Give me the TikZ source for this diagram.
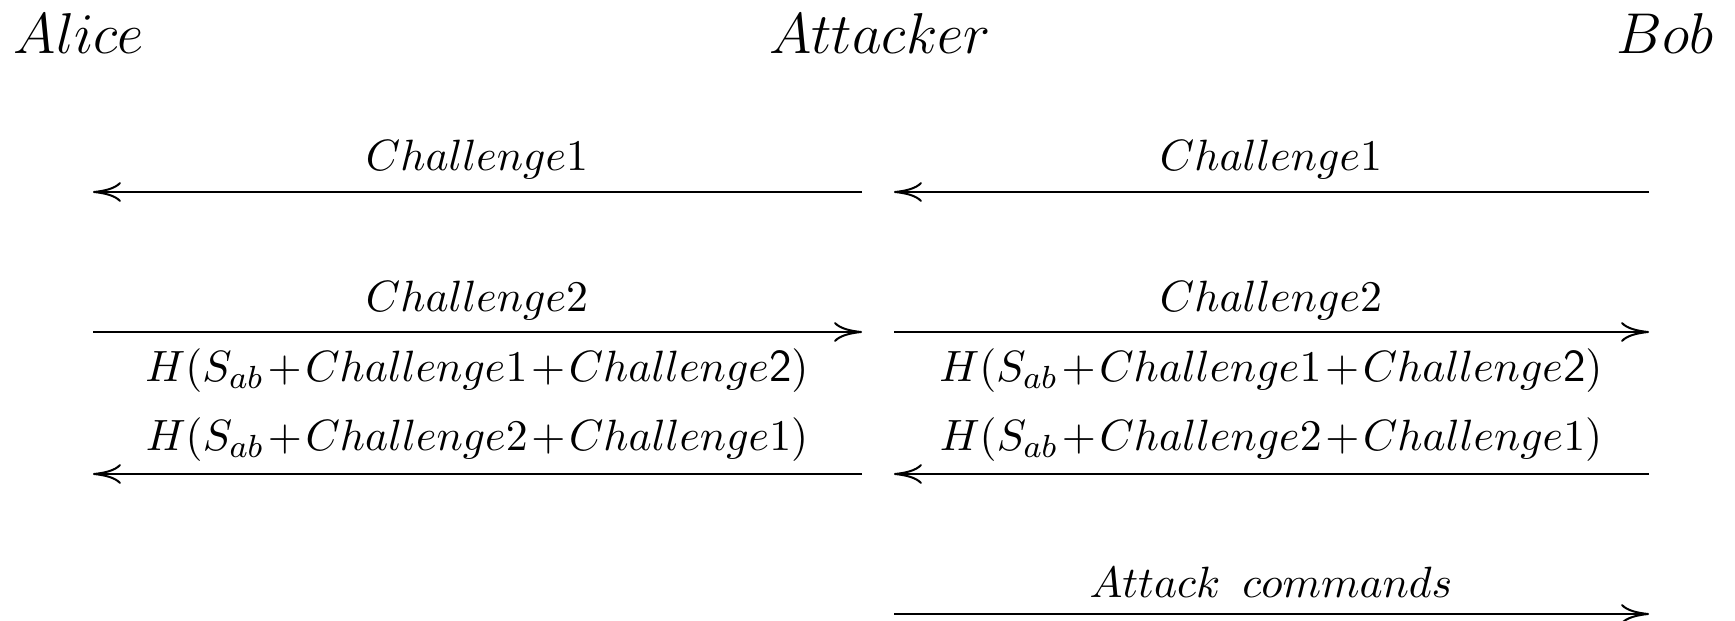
\documentclass[tikz,border=0pt]{standalone}
\usetikzlibrary{arrows.meta}
\newcommand{\pl}{\mskip1.5mu{+}\mskip1.5mu}
\begin{document}
\begin{tikzpicture}[x=0.25pt,y=-0.25pt,
  title/.style={inner sep=0pt,font=\fontsize{13.4}{16}\selectfont},
  lbl/.style={inner sep=0pt,anchor=base,font=\fontsize{11.45}{14}\selectfont},
  msg/.style={line width=0.5pt,-{Computer Modern Rightarrow[length=7pt,width=5pt]}}]
\useasboundingbox (0,0) rectangle (1735,621);
\node[title,anchor=base west] (alice) at (13,53) {$Alice$};
\node[title,anchor=base] (attacker) at (880,53) {$Attacker$};
\node[title,anchor=base east] (bob) at (1714,53) {$Bob$};
% lane end points
\foreach \n/\y in {1/192,2/332,3/474,4/614}{
  \coordinate (a\n) at (93,\y);
  \coordinate (ml\n) at (862,\y);
  \coordinate (mr\n) at (894,\y);
  \coordinate (b\n) at (1649,\y);
}
% labels
\node[lbl] (c1l) at (477,170) {$Challenge1$};
\node[lbl] (c1r) at (1271,170) {$Challenge1$};
\node[lbl] (c2l) at (477,311) {$Challenge2$};
\node[lbl] (c2r) at (1271,311) {$Challenge2$};
\node[lbl] (h1l) at (477,381) {$H(S_{ab}\pl Challenge1\pl Challenge\textsf{2})$};
\node[lbl] (h1r) at (1271,381) {$H(S_{ab}\pl Challenge1\pl Challenge\textsf{2})$};
\node[lbl] (h2l) at (477,450) {$H(S_{ab}\pl Challenge2\pl Challenge1)$};
\node[lbl] (h2r) at (1271,450) {$H(S_{ab}\pl Challenge2\pl Challenge1)$};
\node[lbl] (ac) at (1271,597) {$Attack\ \,commands$};
% messages
\draw[msg] (ml1) -- (a1);
\draw[msg] (b1) -- (mr1);
\draw[msg] (a2) -- (ml2);
\draw[msg] (mr2) -- (b2);
\draw[msg] (ml3) -- (a3);
\draw[msg] (b3) -- (mr3);
\draw[msg] (mr4) -- (b4);
\end{tikzpicture}
\end{document}
